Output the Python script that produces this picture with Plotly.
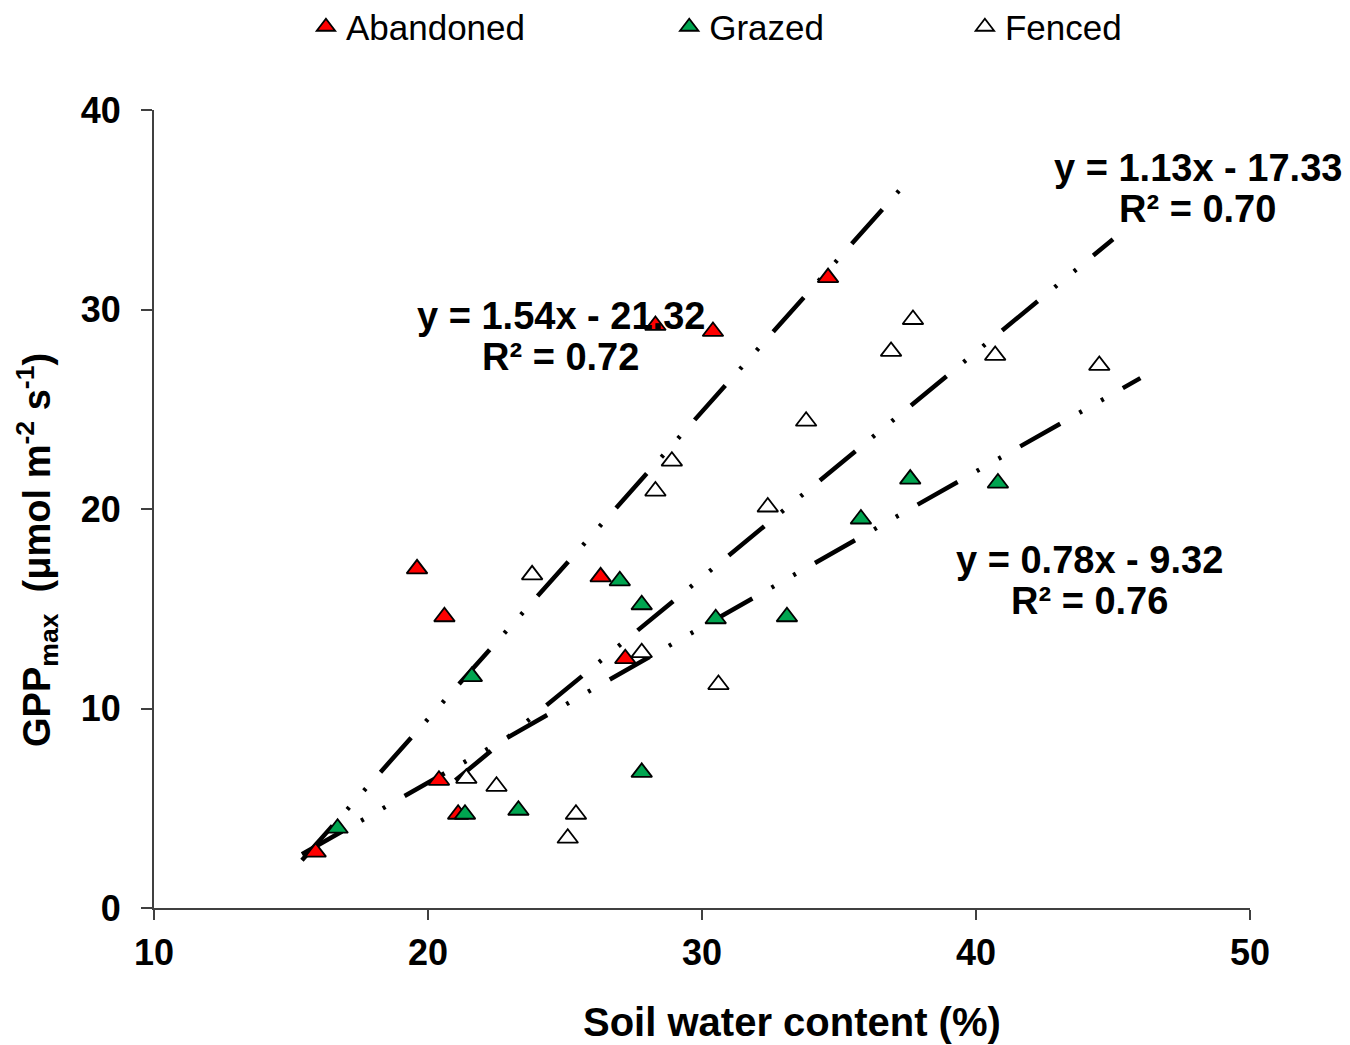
import plotly.graph_objects as go

# ---------------- data ----------------
aband_x = [15.9, 19.6, 20.6, 20.4, 21.1, 26.3, 27.2, 28.3, 30.4, 34.6]
aband_y = [2.8, 17.0, 14.6, 6.4, 4.7, 16.6, 12.5, 29.2, 28.9, 31.6]

grazed_x = [16.7, 21.35, 21.6, 23.3, 27.0, 27.8, 27.8, 30.5, 33.1, 35.8, 37.6, 40.8]
grazed_y = [4.0, 4.7, 11.6, 4.9, 16.4, 15.2, 6.8, 14.5, 14.6, 19.5, 21.5, 21.3]

fenced_x = [21.4, 22.5, 23.8, 25.1, 25.4, 27.8, 28.3, 28.9, 30.6, 32.4, 33.8, 36.9, 37.7, 40.7, 44.5]
fenced_y = [6.5, 6.1, 16.7, 3.5, 4.7, 12.8, 20.9, 22.4, 11.2, 20.1, 24.4, 27.9, 29.5, 27.7, 27.2]

series_names = ["Abandoned", "Grazed", "Fenced"]
series_colors = ["#FF0000", "#00A550", "#FFFFFF"]

# linear trend lines (slope, intercept, R2) and their drawn x-extent
trend_slope = [1.54, 0.78, 1.13]
trend_intercept = [-21.32, -9.32, -17.33]
trend_r2 = ["0.72", "0.76", "0.70"]
trend_x_start = [15.4, 15.4, 21.0]
trend_x_end = [37.2, 46.0, 45.0]
# equation label anchor positions (data units, first text line)
label_x = [24.85, 44.16, 48.1]
label_y = [29.67, 17.44, 37.09]

x_ticks = [10, 20, 30, 40, 50]
y_ticks = [0, 10, 20, 30, 40]

FONT = "Liberation Sans, Arial, Helvetica, sans-serif"

fig = go.Figure()

# trend lines
for i in range(3):
    xs = [trend_x_start[i], trend_x_end[i]]
    ys = [trend_slope[i] * v + trend_intercept[i] for v in xs]
    fig.add_trace(go.Scatter(
        x=xs, y=ys, mode="lines", showlegend=False, hoverinfo="skip",
        line=dict(color="black", width=4.5,
                  dash="46px,22px,3px,22px,3px,22px"),
        cliponaxis=False,
    ))

# scatter series
all_x = [aband_x, grazed_x, fenced_x]
all_y = [aband_y, grazed_y, fenced_y]
legend_ids = ["legend", "legend2", "legend3"]
for i in range(3):
    fig.add_trace(go.Scatter(
        x=all_x[i], y=all_y[i], mode="markers", name=series_names[i],
        legend=legend_ids[i],
        marker=dict(symbol="triangle-up", size=18, color=series_colors[i],
                    line=dict(color="black", width=1.8)),
        cliponaxis=False,
    ))

# equation annotations (two lines each)
for i in range(3):
    sign = "-" if trend_intercept[i] < 0 else "+"
    eq = f"y = {trend_slope[i]:.2f}x {sign} {abs(trend_intercept[i]):.2f}"
    fig.add_annotation(x=label_x[i], y=label_y[i], xref="x", yref="y",
                       text=f"<b>{eq}</b>", showarrow=False,
                       font=dict(family=FONT, size=38, color="black"),
                       xanchor="center", yanchor="middle")
    fig.add_annotation(x=label_x[i], y=label_y[i], xref="x", yref="y",
                       text=f"<b>R² = {trend_r2[i]}</b>", showarrow=False,
                       font=dict(family=FONT, size=38, color="black"),
                       xanchor="center", yanchor="middle", yshift=-41)

# axis titles as annotations
fig.add_annotation(x=0.582, y=-0.143, xref="paper", yref="paper",
                   text="<b>Soil water content (%)</b>", showarrow=False,
                   font=dict(family=FONT, size=40, color="black"),
                   xanchor="center", yanchor="middle")
fig.add_annotation(x=-0.1074, y=0.449, xref="paper", yref="paper",
                   text="<b>GPP<sub>max</sub>  (μmol m<sup>-2</sup> s<sup>-1</sup>)</b>",
                   showarrow=False, textangle=-90,
                   font=dict(family=FONT, size=38, color="black"),
                   xanchor="center", yanchor="middle")

legend_common = dict(orientation="h", xref="container", yref="container",
                     xanchor="left", yanchor="middle", y=0.9818,
                     font=dict(family=FONT, size=35, color="black"),
                     bgcolor="rgba(0,0,0,0)", itemsizing="trace")

fig.update_layout(
    width=1350, height=1045,
    paper_bgcolor="white", plot_bgcolor="white",
    margin=dict(l=146, r=108, t=102, b=145),
    font=dict(family=FONT, color="black"),
    legend=dict(x=0.2207, **legend_common),
    legend2=dict(x=0.4898, **legend_common),
    legend3=dict(x=0.7088, **legend_common),
    xaxis=dict(range=[10, 50], tickvals=x_ticks, ticktext=[str(v) for v in x_ticks],
               showgrid=False, zeroline=False, showline=True,
               linecolor="#404040", linewidth=2, ticks="outside", ticklen=10,
               tickwidth=2, tickcolor="#404040", ticklabelstandoff=2,
               tickfont=dict(family=FONT, size=36, color="black", weight="bold")),
    yaxis=dict(range=[0, 40], tickvals=y_ticks, ticktext=[str(v) for v in y_ticks],
               showgrid=False, zeroline=False, showline=True,
               linecolor="#404040", linewidth=2, ticks="outside", ticklen=11,
               tickwidth=2, tickcolor="#404040", ticklabelstandoff=13,
               tickfont=dict(family=FONT, size=36, color="black", weight="bold")),
)

fig.write_html("out.html")
